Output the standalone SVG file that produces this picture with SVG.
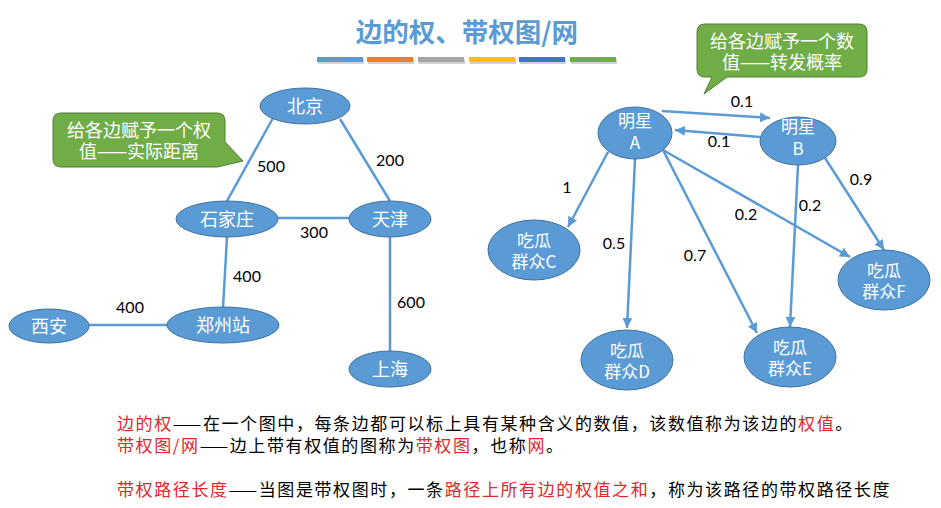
<svg xmlns="http://www.w3.org/2000/svg" width="941" height="508" viewBox="0 0 941 508">
<defs>
<style>
.node ellipse{fill:#5b9bd5;stroke:#41719c;stroke-width:1}
.nt{fill:#ffffff;font-family:"Noto Sans CJK SC",sans-serif;font-size:17px;text-anchor:middle}
.lt{fill:#ffffff;font-family:"Noto Sans CJK SC",sans-serif;font-size:18px;text-anchor:middle}
.edge{stroke:#5b9bd5;stroke-width:2.5;fill:none}
.arr{stroke:#5b9bd5;stroke-width:2.5;fill:none;marker-end:url(#ah)}
.num{font-family:Lato,"Liberation Sans",sans-serif;font-size:16px;fill:#000;text-anchor:middle}
.call{fill:#70ad47;stroke:#507e32;stroke-width:1}
.ct{fill:#ffffff;font-family:"Noto Sans CJK SC",sans-serif;font-size:18px;text-anchor:middle}
.body{font-family:"Noto Sans CJK SC",sans-serif;font-size:17px;letter-spacing:1.6px;fill:#000}
.red{fill:#e0282e}
</style>
<marker id="ah" markerUnits="userSpaceOnUse" markerWidth="12" markerHeight="10" refX="10" refY="5" orient="auto">
<path d="M0,0 L10,5 L0,10 Z" fill="#5b9bd5"/>
</marker>
</defs>
<rect width="941" height="508" fill="#ffffff"/>
<g id="title">
<text x="467" y="42" font-family="'Noto Sans CJK SC',sans-serif" font-size="26.5" font-weight="bold" fill="#5b9bd5" text-anchor="middle">边的权、带权图/网</text>
<g opacity="0.35" fill="#7f7f7f">
<rect x="318" y="59" width="46" height="5"/><rect x="368" y="59" width="46" height="5"/><rect x="419" y="59" width="46" height="5"/><rect x="470" y="59" width="46" height="5"/><rect x="520" y="59" width="46" height="5"/><rect x="571" y="59" width="46" height="5"/>
</g>
<rect x="317" y="57" width="46" height="5" fill="#5b9bd5"/>
<rect x="367" y="57" width="46" height="5" fill="#ed7d31"/>
<rect x="418" y="57" width="46" height="5" fill="#a5a5a5"/>
<rect x="469" y="57" width="46" height="5" fill="#ffc000"/>
<rect x="519" y="57" width="46" height="5" fill="#4472c4"/>
<rect x="570" y="57" width="46" height="5" fill="#70ad47"/>
</g>
<g id="connectors">
<line class="edge" x1="273" y1="118" x2="227" y2="201"/>
<line class="edge" x1="340" y1="119" x2="390" y2="201"/>
<line class="edge" x1="278" y1="218" x2="349" y2="218"/>
<line class="edge" x1="227" y1="237" x2="223" y2="308"/>
<line class="edge" x1="89" y1="325" x2="167" y2="325"/>
<line class="edge" x1="390" y1="237" x2="390" y2="351"/>
<line class="arr" x1="662" y1="111" x2="770" y2="118"/>
<line class="arr" x1="760" y1="137" x2="675" y2="130"/>
<line class="arr" x1="608" y1="152" x2="568" y2="227"/>
<line class="arr" x1="635" y1="159" x2="627" y2="328"/>
<line class="arr" x1="663" y1="150" x2="757" y2="333"/>
<line class="arr" x1="663" y1="150" x2="850" y2="257"/>
<line class="arr" x1="798" y1="165" x2="790" y2="327"/>
<line class="arr" x1="825" y1="158" x2="884" y2="250"/>
<text class="num" x="271" y="172">500</text>
<text class="num" x="390" y="166">200</text>
<text class="num" x="314" y="238">300</text>
<text class="num" x="247" y="282">400</text>
<text class="num" x="130" y="313">400</text>
<text class="num" x="411" y="308">600</text>
<text class="num" x="742" y="107">0.1</text>
<text class="num" x="719" y="147">0.1</text>
<text class="num" x="567" y="193">1</text>
<text class="num" x="614" y="249">0.5</text>
<text class="num" x="695" y="261">0.7</text>
<text class="num" x="746" y="220">0.2</text>
<text class="num" x="810" y="211">0.2</text>
<text class="num" x="861" y="185">0.9</text>
</g>
<g id="n-beijing" class="node"><ellipse cx="305" cy="106" rx="45" ry="18"/><text class="lt" x="305" y="113">北京</text></g>
<g id="n-shijiazhuang" class="node"><ellipse cx="227" cy="219" rx="51" ry="18"/><text class="lt" x="227" y="226">石家庄</text></g>
<g id="n-tianjin" class="node"><ellipse cx="390" cy="219" rx="41" ry="18"/><text class="lt" x="390" y="226">天津</text></g>
<g id="n-xian" class="node"><ellipse cx="49" cy="326" rx="40" ry="17"/><text class="lt" x="49" y="333">西安</text></g>
<g id="n-zhengzhou" class="node"><ellipse cx="223" cy="325" rx="56" ry="18"/><text class="lt" x="223" y="332">郑州站</text></g>
<g id="n-shanghai" class="node"><ellipse cx="390" cy="369" rx="41" ry="18"/><text class="lt" x="390" y="376">上海</text></g>
<g id="n-A" class="node"><ellipse cx="635" cy="133" rx="37" ry="26"/><text class="nt" x="635" y="127">明星<tspan x="635" dy="22">A</tspan></text></g>
<g id="n-B" class="node"><ellipse cx="798" cy="141" rx="38" ry="24"/><text class="nt" x="798" y="133">明星<tspan x="798" dy="22">B</tspan></text></g>
<g id="n-C" class="node"><ellipse cx="534" cy="250" rx="46" ry="30"/><text class="nt" x="534" y="247">吃瓜<tspan x="534" dy="21">群众C</tspan></text></g>
<g id="n-D" class="node"><ellipse cx="627" cy="360" rx="46" ry="30"/><text class="nt" x="627" y="357">吃瓜<tspan x="627" dy="21">群众D</tspan></text></g>
<g id="n-E" class="node"><ellipse cx="790" cy="357" rx="46" ry="30"/><text class="nt" x="790" y="354">吃瓜<tspan x="790" dy="21">群众E</tspan></text></g>
<g id="n-F" class="node"><ellipse cx="884" cy="280" rx="46" ry="30"/><text class="nt" x="884" y="277">吃瓜<tspan x="884" dy="21">群众F</tspan></text></g>
<g id="callout-left">
<path class="call" d="M61,113 H217 Q225,113 225,121 V142 L243,161 L217,167 H61 Q53,167 53,159 V121 Q53,113 61,113 Z"/>
<text class="ct" x="139" y="137">给各边赋予一个权<tspan x="139" dy="21">值——实际距离</tspan></text>
</g>
<g id="callout-right">
<path class="call" d="M705,24 H859 Q867,24 867,32 V69 Q867,77 859,77 H727 L704,94 L712,77 H705 Q697,77 697,69 V32 Q697,24 705,24 Z"/>
<text class="ct" x="782" y="48">给各边赋予一个数<tspan x="782" dy="21">值——转发概率</tspan></text>
</g>
<g id="definitions">
<text class="body" x="117" y="430"><tspan class="red">边的权</tspan>——在一个图中，每条边都可以标上具有某种含义的数值，该数值称为该边的<tspan class="red">权值</tspan>。<tspan x="117" dy="22" class="red">带权图/网</tspan>——边上带有权值的图称为<tspan class="red">带权图</tspan>，也称<tspan class="red">网</tspan>。</text>
<text class="body" x="117" y="496"><tspan class="red">带权路径长度</tspan>——当图是带权图时，一条<tspan class="red">路径上所有边的权值之和</tspan>，称为该路径的带权路径长度</text>
</g>
</svg>
